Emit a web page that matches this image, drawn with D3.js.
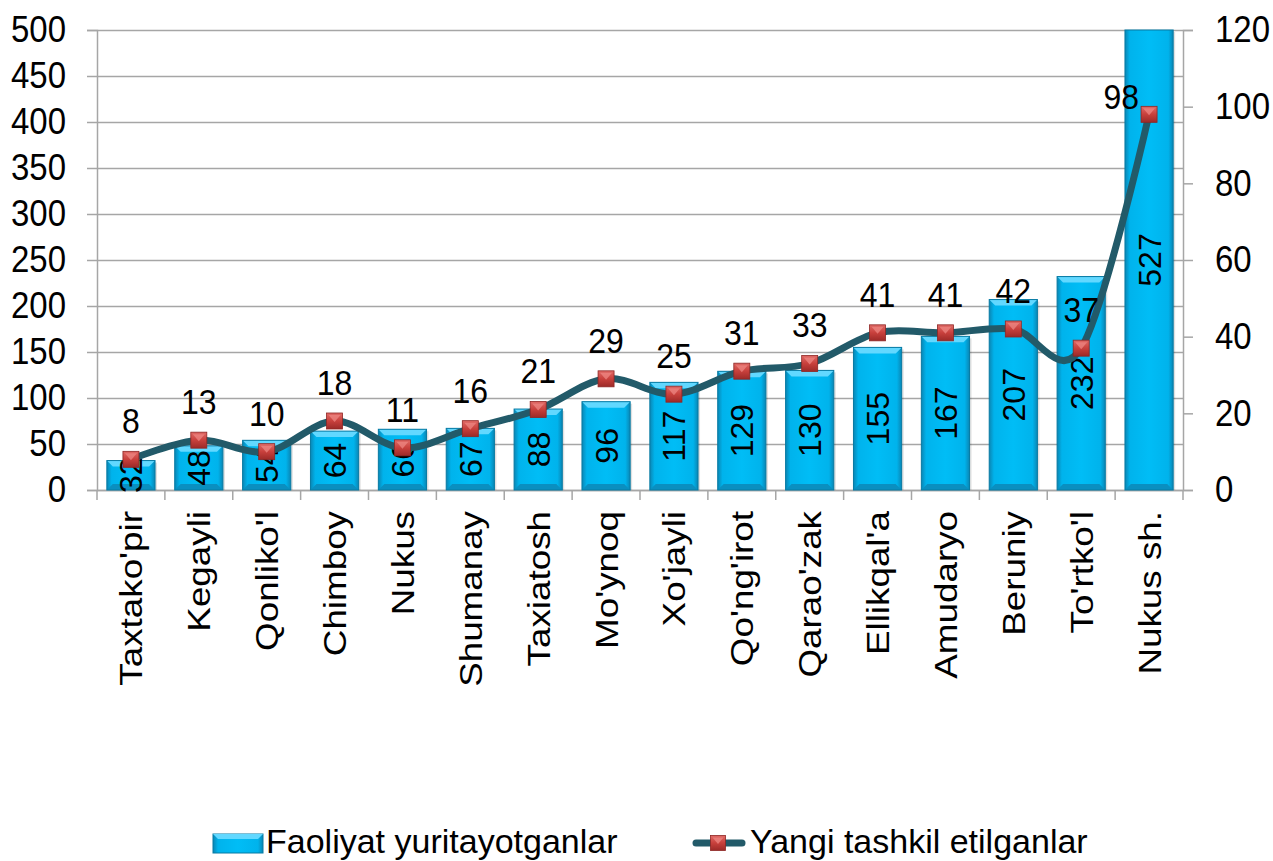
<!DOCTYPE html>
<html>
<head>
<meta charset="utf-8">
<script src="https://cdn.jsdelivr.net/npm/d3@7"></script>
<style>
  html, body { margin: 0; padding: 0; background: #fff; }
  svg { display: block; }
  text { font-family: "Liberation Sans", Arial, sans-serif; fill: #000; }
</style>
</head>
<body>
<svg id="chart" width="1273" height="861"></svg>
<script>
// chart data
const categories = ["Taxtako'pir", "Kegayli", "Qonliko'l", "Chimboy", "Nukus", "Shumanay", "Taxiatosh",
  "Mo'ynoq", "Xo'jayli", "Qo'ng'irot", "Qarao'zak", "Ellikqal'a", "Amudaryo", "Beruniy", "To'rtko'l", "Nukus sh."];
const activeCounts = [32, 48, 54, 64, 66, 67, 88, 96, 117, 129, 130, 155, 167, 207, 232, 527];
const newCounts = [8, 13, 10, 18, 11, 16, 21, 29, 25, 31, 33, 41, 41, 42, 37, 98];
const leftTicks = [0, 50, 100, 150, 200, 250, 300, 350, 400, 450, 500];
const rightTicks = [0, 20, 40, 60, 80, 100, 120];
const seriesNames = ["Faoliyat yuritayotganlar", "Yangi tashkil etilganlar"];

const svg = d3.select("#chart");
const plotLeft = 97, plotRight = 1183, plotTop = 30, plotBottom = 490;

const x = d3.scaleBand().domain(categories).range([plotLeft, plotRight])
  .paddingInner(0.29).paddingOuter(0.145);
const yL = d3.scaleLinear().domain([0, 500]).range([plotBottom, plotTop]);
const yR = d3.scaleLinear().domain([0, 120]).range([plotBottom, plotTop]);
const cx = (c) => x(c) + x.bandwidth() / 2;

// gradients
const defs = svg.append("defs");
const barGrad = defs.append("linearGradient").attr("id", "barGrad")
  .attr("x1", 0).attr("x2", 1).attr("y1", 0).attr("y2", 0);
[[0, "#0a86b4"], [0.1, "#00b3ec"], [0.5, "#00bdf6"], [0.9, "#00b3ec"], [1, "#0a86b4"]]
  .forEach(s => barGrad.append("stop").attr("offset", s[0]).attr("stop-color", s[1]));
const mkGrad = defs.append("linearGradient").attr("id", "mkGrad")
  .attr("x1", 0).attr("x2", 0).attr("y1", 0).attr("y2", 1);
[[0, "#e06a66"], [0.5, "#c8403c"], [1, "#9c2a28"]]
  .forEach(s => mkGrad.append("stop").attr("offset", s[0]).attr("stop-color", s[1]));

// horizontal gridlines
svg.append("g").selectAll("line").data(leftTicks).join("line")
  .attr("x1", plotLeft - 10).attr("x2", plotRight)
  .attr("y1", d => Math.round(yL(d)) + 0.5).attr("y2", d => Math.round(yL(d)) + 0.5)
  .attr("stroke", "#a6a6a6").attr("stroke-width", 1.5);

// left axis
const axL = svg.append("g").attr("transform", `translate(${plotLeft},0)`)
  .call(d3.axisLeft(yL).tickValues(leftTicks).tickSize(10).tickPadding(21));
axL.select(".domain").attr("stroke", "#a6a6a6").attr("stroke-width", 1.5);
axL.selectAll(".tick line").remove();
axL.selectAll(".tick text").attr("font-size", 33).attr("font-family", null)
  .attr("transform", "scale(1,1.12)");

// right axis
const axR = svg.append("g").attr("transform", `translate(${plotRight},0)`)
  .call(d3.axisRight(yR).tickValues(rightTicks).tickSize(10).tickPadding(22));
axR.select(".domain").attr("stroke", "#a6a6a6").attr("stroke-width", 1.5);
axR.selectAll(".tick line").attr("stroke", "#a6a6a6").attr("stroke-width", 1.5);
axR.selectAll(".tick text").attr("font-size", 33).attr("font-family", null)
  .attr("transform", "scale(1,1.12)");

// bottom axis line + category ticks
svg.append("line").attr("x1", plotLeft).attr("x2", plotRight)
  .attr("y1", plotBottom + 0.5).attr("y2", plotBottom + 0.5)
  .attr("stroke", "#a6a6a6").attr("stroke-width", 1.5);
const step = x.step();
svg.append("g").selectAll("line").data(d3.range(categories.length + 1)).join("line")
  .attr("x1", i => plotLeft + i * step).attr("x2", i => plotLeft + i * step)
  .attr("y1", plotBottom).attr("y2", plotBottom + 10)
  .attr("stroke", "#a6a6a6").attr("stroke-width", 1.5);

svg.append("g").selectAll("text").data(categories).join("text")
  .attr("transform", d => `translate(${cx(d)},511) rotate(-90) scale(1.15,1)`)
  .attr("text-anchor", "end").attr("dy", "0.36em")
  .attr("font-size", 32).text(d => d);

// bars
const bw = x.bandwidth();
const bars = svg.append("g").selectAll("g").data(categories).join("g");
bars.each(function (c, i) {
  const g = d3.select(this);
  const v = Math.min(activeCounts[i], 500);
  const x0 = x(c), y0 = yL(v), h = plotBottom - y0;
  const clipped = activeCounts[i] > 500;
  const e = 6;
  g.append("rect").attr("x", x0 + 2).attr("y", y0 + 2).attr("width", bw).attr("height", h - 2)
    .attr("fill", "#000").attr("opacity", 0.12);
  g.append("rect").attr("x", x0).attr("y", y0).attr("width", bw).attr("height", h)
    .attr("fill", "url(#barGrad)");
  if (!clipped) {
    g.append("polygon")
      .attr("points", [[x0, y0], [x0 + bw, y0], [x0 + bw - e, y0 + e], [x0 + e, y0 + e]].join(" "))
      .attr("fill", "#62d8ff");
  }
  g.append("polygon")
    .attr("points", [[x0 + e, plotBottom - e], [x0 + bw - e, plotBottom - e], [x0 + bw, plotBottom], [x0, plotBottom]].join(" "))
    .attr("fill", "#0a8fc0");
  g.append("rect").attr("x", x0).attr("y", y0).attr("width", bw).attr("height", h)
    .attr("fill", "none").attr("stroke", "#077aa3").attr("stroke-width", 1);
});

// bar value labels
svg.append("g").selectAll("text").data(categories).join("text")
  .attr("transform", (c, i) => {
    const y0 = yL(Math.min(activeCounts[i], 500));
    return `translate(${cx(c)},${(y0 + plotBottom) / 2}) rotate(-90)`;
  })
  .attr("text-anchor", "middle").attr("dy", "0.36em")
  .attr("font-size", 32).text((c, i) => activeCounts[i]);

// line series
const pts = categories.map((c, i) => [cx(c), yR(newCounts[i])]);
svg.append("path").datum(pts)
  .attr("d", d3.line().curve(d3.curveCatmullRom.alpha(0)))
  .attr("fill", "none").attr("stroke", "#225a69").attr("stroke-width", 7)
  .attr("stroke-linecap", "round").attr("stroke-linejoin", "round");

function marker(g, px, py, s) {
  g.append("rect").attr("x", px - s / 2).attr("y", py - s / 2).attr("width", s).attr("height", s)
    .attr("fill", "url(#mkGrad)").attr("stroke", "#8e2624").attr("stroke-width", 0.8);
  g.append("polygon")
    .attr("points", [[px - s / 2 + 2, py - s / 2 + 2], [px + s / 2 - 2, py - s / 2 + 2], [px, py + 1]].join(" "))
    .attr("fill", "#f08a86").attr("opacity", 0.7);
}
const mk = svg.append("g");
pts.forEach(p => marker(mk, p[0], p[1], 16));

// line value labels
svg.append("g").selectAll("text").data(pts).join("text")
  .attr("transform", (p, i) => i === pts.length - 1
    ? `translate(${p[0] - 10},${p[1] - 18}) scale(1,1.12)`
    : `translate(${p[0]},${p[1] - 39}) scale(1,1.12)`)
  .attr("text-anchor", (p, i) => i === pts.length - 1 ? "end" : "middle")
  .attr("dy", "0.36em").attr("font-size", 32)
  .text((p, i) => newCounts[i]);

// legend
const lg = svg.append("g");
lg.append("rect").attr("x", 213).attr("y", 834).attr("width", 50).attr("height", 19)
  .attr("fill", "url(#barGrad)").attr("stroke", "#077aa3");
lg.append("polygon").attr("points", "213,834 263,834 258,839 218,839").attr("fill", "#62d8ff");
lg.append("text").attr("x", 266).attr("y", 853).attr("font-size", 34).text(seriesNames[0]);
lg.append("line").attr("x1", 696).attr("x2", 742).attr("y1", 843).attr("y2", 843)
  .attr("stroke", "#225a69").attr("stroke-width", 7).attr("stroke-linecap", "round");
marker(lg, 718, 843, 15);
lg.append("text").attr("x", 750).attr("y", 853).attr("font-size", 34).text(seriesNames[1]);
</script>
</body>
</html>
